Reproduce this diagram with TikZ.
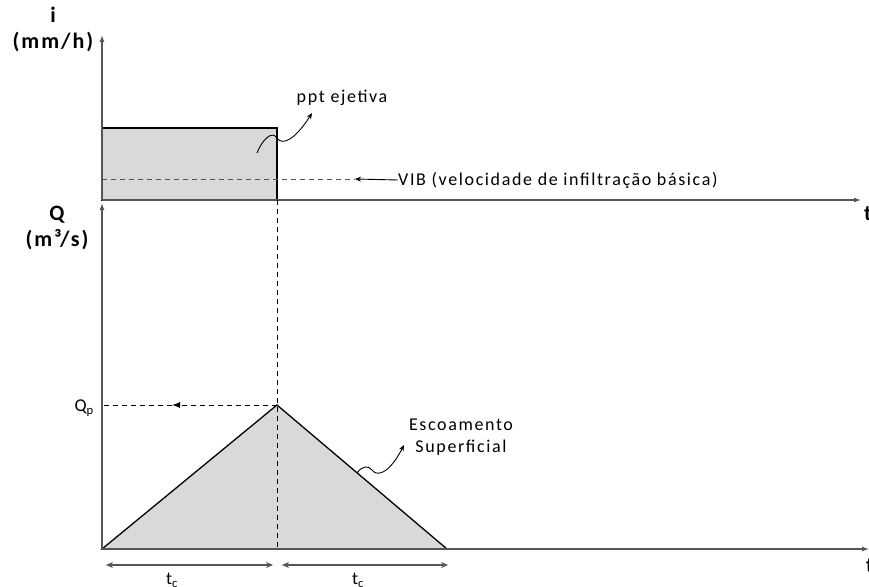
\documentclass[tikz,border=0pt]{standalone}
\usepackage{fontspec}
\setmainfont{Carlito}
\newfontfamily\spacedfont[LetterSpace=9]{Carlito}
\usetikzlibrary{arrows.meta}

\definecolor{axisgray}{HTML}{555555}
\definecolor{areagray}{HTML}{D9D9D9}

\tikzset{
  axisline/.style={draw=axisgray, line width=1.3pt, -{Latex[length=7pt,width=5pt]}},
  guideline/.style={line width=1pt, dash pattern=on 5pt off 4pt},
  spanline/.style={draw=axisgray, line width=1.1pt, {Stealth[length=7pt,width=6pt]}-{Stealth[length=7pt,width=6pt]}},
  curlyarrow/.style={line width=0.9pt, -{Stealth[length=6pt,width=5pt]}},
  note/.style={font=\spacedfont\fontsize{18}{22}\selectfont, inner sep=0pt},
  axislabel/.style={font=\spacedfont\bfseries\fontsize{22}{26}\selectfont, align=center, inner sep=0pt},
}

\begin{document}
\begin{tikzpicture}[x=1pt,y=-1pt]
    \useasboundingbox (0,0) rectangle (869,586);

    % Rain rectangle (ppt efetiva)
    \draw[fill=areagray, line width=1.2pt] (102,128) rectangle (277,200);
    \coordinate (raintop) at (277,200);

    % VIB line
    \coordinate (vibstart) at (102,179);
    \coordinate (vibend) at (355,179);
    \draw[guideline, draw=axisgray] (vibstart) -- (vibend);
    \node[note, anchor=west] (vib) at (398,180) {VIB (velocidade de infiltração básica)};
    \draw[line width=0.9pt, -{Stealth[length=6pt,width=5pt]}] (vib.west) -- (vibend);

    % Hydrograph triangle
    \coordinate (start) at (102,549);
    \coordinate (peak) at (277,405);
    \coordinate (finish) at (447,549);
    \coordinate (peakfoot) at (277,549);
    \draw[fill=areagray, line width=1.3pt] (start) -- (peak) -- (finish) -- cycle;

    % Axes
    \coordinate (origin1) at (102,200);
    \coordinate (origin2) at (102,549);
    \coordinate (itop) at (102,35);
    \coordinate (qtop) at (102,203);
    \coordinate (t1end) at (861,200);
    \coordinate (t2end) at (869,549);
    \draw[axisline] (origin1) -- (itop);
    \draw[axisline] (origin1) -- (t1end);
    \draw[axisline] (origin2) -- (qtop);
    \draw[axisline] (origin2) -- (t2end);
    \node[axislabel] (ilabel) at (53,29) {i\\(mm/h)};
    \node[axislabel] (qlabel) at (57,228) {Q\\(m³/s)};
    \node[axislabel, anchor=west] (t1) at (864,214) {t};
    \node[axislabel, anchor=west] (t2) at (866,566) {t};

    % Peak guide lines
    \draw[guideline] (raintop) -- (peakfoot);
    \coordinate (qpmid) at (172,405);
    \coordinate (qpaxis) at (102,405);
    \draw[guideline, -{Latex[length=8pt,width=6pt]}] (peak) -- (qpmid);
    \draw[guideline] (qpmid) -- (qpaxis);
    \node[note, anchor=east] (qp) at (94,408) {Q\textsubscript{p}};

    % Time spans
    \coordinate (spanA1) at (106,565);
    \coordinate (spanA2) at (273,565);
    \coordinate (spanB1) at (282,565);
    \coordinate (spanB2) at (448,565);
    \draw[spanline] (spanA1) -- (spanA2);
    \draw[spanline] (spanB1) -- (spanB2);
    \node[note, anchor=north] (tc1) at (172,573) {t\textsubscript{c}};
    \node[note, anchor=north] (tc2) at (358,573) {t\textsubscript{c}};

    % Labels with curly arrows
    \node[note] (ppt) at (342,98) {ppt ejetiva};
    \coordinate (pptfrom) at (257,153);
    \coordinate (pptto) at (312,113);
    \draw[curlyarrow] (pptfrom) .. controls (262,140) and (272,130) .. (277,138)
        .. controls (282,146) and (295,140) .. (pptto);

    \node[note, align=center] (esc) at (461,437) {Escoamento\\Superficial};
    \coordinate (escfrom) at (357,473);
    \coordinate (escto) at (404,445);
    \draw[curlyarrow] (escfrom) .. controls (362,466) and (368,465) .. (372,470)
        .. controls (376,476) and (388,476) .. (escto);
\end{tikzpicture}
\end{document}
